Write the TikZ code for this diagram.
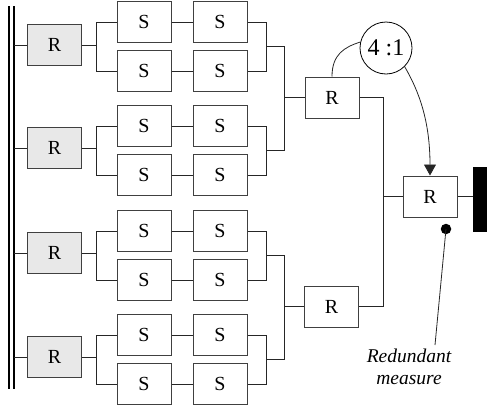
\documentclass[tikz,border=0pt]{standalone}
\usepackage{fontspec}
\setmainfont{Liberation Serif}
\usetikzlibrary{arrows.meta,calc}
\begin{document}
\begin{tikzpicture}[x=1pt,y=-1pt,
  box/.style={draw=black!75, line width=1pt, minimum width=54pt, minimum height=41pt, inner sep=0pt, font=\fontsize{20}{22}\selectfont},
  rbox/.style={box, fill=black!9},
  wire/.style={line width=0.8pt, draw=black!85},
  bar/.style={line width=1.9pt},
]
\useasboundingbox (0,0) rectangle (487,410);
% left double bus bar
\coordinate (bt) at (9,6);
\coordinate (bb) at (9,389);
\coordinate (ct) at (13.6,6);
\coordinate (cb) at (13.6,389);
\draw[bar] (bt) -- (bb);
\draw[bar] (ct) -- (cb);
\coordinate (barx) at (14,0);
\coordinate (forkL) at (96,0);
\coordinate (forkR) at (266,0);
\foreach \i/\ry/\sa/\sb in {1/45/22/71, 2/148/126/175, 3/253/231/280, 4/357/335/384} {
  \node[rbox] (R\i) at (54.5,\ry) {R};
  \node[box] (S\i-a1) at (144,\sa) {S};
  \node[box] (S\i-a2) at (220,\sa) {S};
  \node[box] (S\i-b1) at (144,\sb) {S};
  \node[box] (S\i-b2) at (220,\sb) {S};
  \draw[wire] (R\i.west) -- (R\i.west -| barx);
  \draw[wire] (R\i.east) -- (R\i.east -| forkL);
  \draw[wire] (S\i-a1.west) -- (S\i-a1.west -| forkL) -- (S\i-b1.west -| forkL) -- (S\i-b1.west);
  \draw[wire] (S\i-a1.east) -- (S\i-a2.west);
  \draw[wire] (S\i-b1.east) -- (S\i-b2.west);
  \draw[wire] (S\i-a2.east) -- (S\i-a2.east -| forkR) -- (S\i-b2.east -| forkR) -- (S\i-b2.east);
  \coordinate (J\i) at ($(S\i-a2.east -| forkR)!0.5!(S\i-b2.east -| forkR)$);
}
% middle stage
\node[box] (M1) at (332,97.5) {R};
\node[box] (M2) at (331.5,306.5) {R};
\coordinate (c2) at (284,0);
\draw[wire] (J1) -- (J1 -| c2) -- (J2 -| c2) -- (J2);
\draw[wire] (M1.west) -- (M1.west -| c2);
\draw[wire] (J3) -- (J3 -| c2) -- (J4 -| c2) -- (J4);
\draw[wire] (M2.west) -- (M2.west -| c2);
% final stage
\node[box] (F) at (430,196.5) {R};
\coordinate (c3) at (383,0);
\draw[wire] (M1.east) -- (M1.east -| c3) -- (M2.east -| c3) -- (M2.east);
\draw[wire] (F.west) -- (F.west -| c3);
\node[fill=black, minimum width=14pt, minimum height=65pt, inner sep=0pt] (out) at (480,199.5) {};
\draw[wire] (F.east) -- (F.east -| out.west);
% ratio circle
\node[circle, draw, line width=0.8pt, minimum size=52pt, inner sep=0pt, font=\fontsize{24}{26}\selectfont] (ratio) at (386,48) {4 :1};
\draw[wire] (M1.north) .. controls ($(M1.north)+(0,-22)$) and ($(ratio.167)+(-16,5)$) .. (ratio.167);
\draw[wire, -{Triangle[width=12pt,length=11pt]}] (ratio.-45) .. controls ($(ratio.-45)+(14,24)$) and ($(F.north)+(0,-55)$) .. (F.north);
% redundant measure
\node[circle, fill=black, inner sep=0pt, minimum size=10.5pt] (dot) at (446,229) {};
\node[font=\itshape\fontsize{19.5}{22}\selectfont, align=center, inner sep=0pt] (lbl) at (409,367) {Redundant\\measure};
\coordinate (m) at (435,345);
\draw[wire] (dot.center) -- (m);
\end{tikzpicture}
\end{document}
